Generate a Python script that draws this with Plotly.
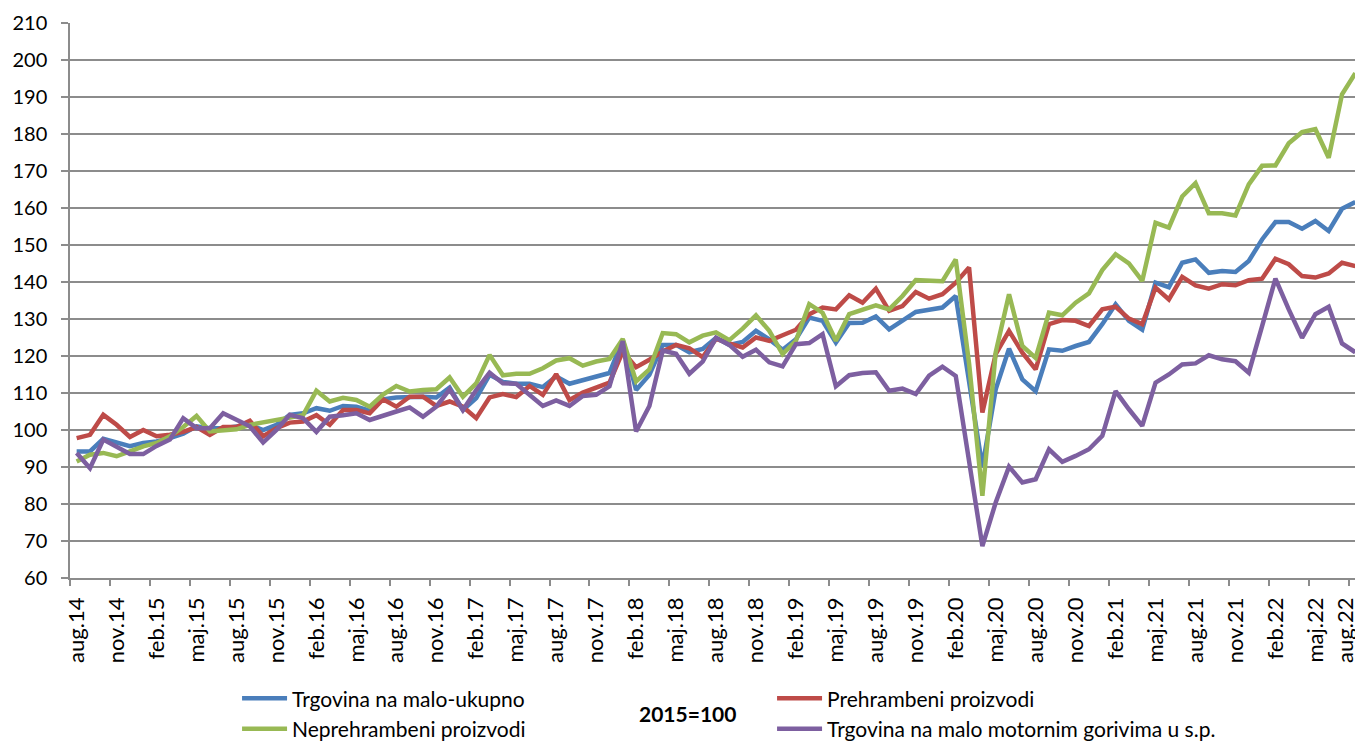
import plotly.graph_objects as go

month_names = ["jan", "feb", "mar", "apr", "maj", "jun", "jul", "aug", "sep", "okt", "nov", "dec"]
categories = [f"{month_names[(7 + k) % 12]}.{14 + (7 + k) // 12}" for k in range(97)]

tick_labels = ["aug.14", "nov.14", "feb.15", "maj.15", "aug.15", "nov.15", "feb.16", "maj.16",
               "aug.16", "nov.16", "feb.17", "maj.17", "aug.17", "nov.17", "feb.18", "maj.18",
               "aug.18", "nov.18", "feb.19", "maj.19", "aug.19", "nov.19", "feb.20", "maj.20",
               "aug.20", "nov.20", "feb.21", "maj.21", "aug.21", "nov.21", "feb.22", "maj.22",
               "aug.22"]

ukupno = [94.2, 94.2, 97.6, 96.6, 95.6, 96.5, 96.9, 97.8, 99.0, 101.0, 100.5, 100.5, 101.0, 101.4,
          100.0, 101.4, 104.1, 104.5, 105.9, 105.2, 106.5, 106.3, 105.2, 108.3, 108.8, 109.0, 109.0,
          108.8, 111.5, 105.4, 108.6, 114.9, 113.0, 112.5, 112.5, 111.6, 114.5, 112.5, 113.4, 114.3,
          115.4, 124.4, 110.8, 114.9, 123.0, 123.0, 121.0, 121.9, 124.9, 123.0, 123.8, 126.8, 124.5,
          121.7, 124.5, 130.4, 129.5, 123.6, 128.9, 129.0, 130.7, 127.2, 129.5, 131.9, 132.5, 133.1,
          136.2, 114.0, 90.0, 111.0, 122.0, 113.7, 110.5, 121.8, 121.4, 122.7, 123.8, 128.6, 134.0,
          129.5, 127.1, 139.8, 138.6, 145.2, 146.1, 142.5, 143.0, 142.7, 145.7, 151.5, 156.2, 156.2,
          154.4, 156.5, 153.8, 159.8, 161.6]

prehrambeni = [97.8, 98.7, 104.1, 101.4, 98.1, 100.0, 98.3, 98.7, 99.5, 100.8, 98.7, 100.8, 100.8,
               102.5, 98.3, 100.5, 102.0, 102.3, 104.0, 101.4, 105.4, 105.4, 104.5, 108.3, 106.3,
               109.0, 109.0, 106.5, 107.7, 106.3, 103.2, 108.8, 109.7, 108.9, 111.9, 109.5, 115.1,
               108.1, 110.1, 111.3, 112.8, 121.2, 117.0, 119.0, 121.2, 123.0, 122.1, 119.7, 124.6,
               123.4, 122.3, 125.0, 124.1, 125.6, 127.1, 131.3, 133.1, 132.6, 136.4, 134.4, 138.2,
               132.2, 133.5, 137.3, 135.5, 136.7, 139.8, 143.9, 104.7, 120.5, 126.8, 120.9, 116.4,
               128.6, 129.7, 129.5, 128.1, 132.6, 133.3, 130.1, 128.6, 138.5, 135.3, 141.4, 139.1,
               138.2, 139.4, 139.1, 140.5, 140.9, 146.3, 144.8, 141.6, 141.2, 142.3, 145.2, 144.3]

neprehrambeni = [91.5, 93.3, 93.8, 92.9, 94.2, 95.6, 96.5, 98.3, 100.8, 103.8, 99.6, 99.9, 100.2,
                 101.4, 102.0, 102.7, 103.2, 104.0, 110.6, 107.7, 108.7, 108.1, 106.3, 109.6, 111.9,
                 110.4, 110.8, 111.0, 114.2, 109.0, 112.6, 120.3, 114.8, 115.2, 115.2, 116.7, 118.8,
                 119.4, 117.4, 118.5, 119.2, 124.6, 113.1, 116.4, 126.2, 125.9, 123.7, 125.5, 126.4,
                 124.3, 127.4, 131.0, 126.8, 120.5, 124.1, 134.0, 131.7, 124.1, 131.3, 132.6, 133.7,
                 132.6, 136.2, 140.5, 140.4, 140.2, 146.1, 118.0, 82.2, 121.0, 136.7, 122.7, 119.5,
                 131.7, 131.0, 134.4, 136.9, 143.2, 147.5, 145.0, 140.3, 156.0, 154.7, 163.1, 166.7,
                 158.6, 158.6, 158.0, 166.4, 171.4, 171.5, 177.5, 180.5, 181.3, 173.6, 190.7, 196.4]

goriva = [93.8, 89.7, 97.4, 95.6, 93.5, 93.5, 95.7, 97.4, 103.2, 100.5, 100.5, 104.5, 102.7, 101.0,
          96.6, 100.0, 104.1, 103.2, 99.5, 103.6, 104.0, 104.5, 102.7, 104.0, 105.0, 106.1, 103.6,
          106.3, 111.0, 105.4, 110.8, 115.5, 112.6, 112.5, 109.5, 106.5, 108.0, 106.5, 109.2, 109.5,
          111.8, 124.0, 99.6, 106.5, 121.5, 120.6, 115.2, 118.5, 124.9, 123.0, 119.8, 121.7, 118.3,
          117.2, 123.2, 123.5, 125.9, 111.8, 114.8, 115.4, 115.6, 110.6, 111.2, 109.7, 114.7, 117.1,
          114.6, 92.0, 68.6, 80.4, 90.1, 85.8, 86.7, 94.8, 91.4, 93.0, 94.8, 98.4, 110.5, 105.6,
          101.1, 112.8, 115.0, 117.7, 118.0, 120.2, 119.1, 118.6, 115.5, 128.1, 140.9, 132.6, 124.9,
          131.3, 133.3, 123.4, 121.0]

series_names = ["Trgovina na malo-ukupno", "Prehrambeni proizvodi",
                "Neprehrambeni proizvodi", "Trgovina na malo motornim gorivima u s.p."]
series_values = [ukupno, prehrambeni, neprehrambeni, goriva]
series_colors = ["#4A7EBB", "#BE4B48", "#98B954", "#7D5FA0"]

FONT = "Lato"
GRID = "#8c8c8c"
x_idx = list(range(len(categories)))

fig = go.Figure()
for name, vals, col in zip(series_names, series_values, series_colors):
    fig.add_trace(go.Scatter(x=x_idx, y=vals, name=name, mode="lines",
                             line=dict(color=col, width=4.5), text=categories,
                             hovertemplate="%{text}: %{y}<extra>" + name + "</extra>"))

# label positions: one label every 3 months; the last one nudged inward so it stays visible
label_pos = [3 * k for k in range(len(tick_labels))]
label_pos[-1] = label_pos[-1] - 0.7
boundary_pos = [3 * k - 0.5 for k in range(len(tick_labels))]

# the page body has an 8px margin, so the figure is 16px smaller than the window
fig.update_layout(
    width=1355, height=734,
    margin=dict(l=62, r=1, t=15, b=164, autoexpand=False),
    paper_bgcolor="white", plot_bgcolor="white",
    font=dict(family=FONT, color="black"),
    showlegend=True,
    legend=dict(orientation="h", x=0.1293, xanchor="left", y=-0.1805, yanchor="top",
                entrywidth=475, entrywidthmode="pixels", font=dict(size=21, family=FONT),
                tracegroupgap=0, itemwidth=45, bgcolor="rgba(0,0,0,0)"),
    xaxis=dict(range=[-0.5, 96.5], tickmode="array", tickvals=label_pos, ticktext=tick_labels,
               tickangle=-90, ticks="", ticklabelstandoff=9, ticklabeloverflow="allow",
               showgrid=False, zeroline=False,
               showline=True, linecolor=GRID, linewidth=1.5, tickfont=dict(size=22, family=FONT)),
    xaxis2=dict(range=[-0.5, 96.5], overlaying="x", side="bottom", tickmode="array",
                tickvals=boundary_pos, ticks="outside", ticklen=7, tickcolor=GRID, tickwidth=1.5,
                showticklabels=False, showgrid=False, zeroline=False, showline=False),
    yaxis=dict(range=[60, 210], dtick=10, tick0=60, showgrid=True, gridcolor=GRID, gridwidth=1.5,
               zeroline=False, showline=True, linecolor=GRID, linewidth=1.5, ticks="outside",
               ticklen=7, tickcolor=GRID, tickwidth=1.5, ticklabelstandoff=10,
               tickfont=dict(size=20, family=FONT)),
    annotations=[dict(text="<b>2015=100</b>", x=0.478, y=-0.245, xref="paper", yref="paper",
                      xanchor="center", yanchor="middle", showarrow=False,
                      font=dict(size=21, family=FONT, color="black"))],
)
# invisible helper trace so the boundary tick marks of xaxis2 are drawn
fig.add_trace(go.Scatter(x=[-0.5, 96.5], y=[60, 60], xaxis="x2", mode="lines",
                         line=dict(width=0), hoverinfo="skip", showlegend=False))

fig.write_html("out.html")
